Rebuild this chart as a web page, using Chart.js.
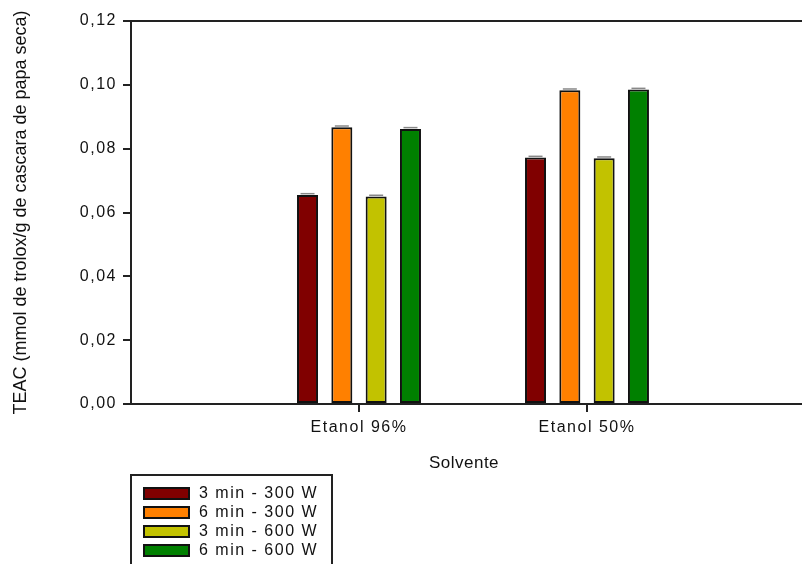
<!DOCTYPE html>
<html>
<head>
<meta charset="utf-8">
<script src="https://cdn.jsdelivr.net/npm/chart.js@4.4.1/dist/chart.umd.min.js"></script>
<style>
  html, body { margin: 0; padding: 0; background: #fff; overflow: hidden; }
</style>
</head>
<body>
<canvas id="teacChart" width="802" height="564"></canvas>
<script>
// data
const categories = ["Etanol 96%", "Etanol 50%"];
const seriesNames = ["3 min - 300 W", "6 min - 300 W", "3 min - 600 W", "6 min - 600 W"];
const min3w300 = [0.0655, 0.0772];
const min6w300 = [0.0867, 0.0983];
const min3w600 = [0.0650, 0.0770];
const min6w600 = [0.0862, 0.0985];
const errors = [0.0004, 0.0004];
const yTicks = [0, 0.02, 0.04, 0.06, 0.08, 0.10, 0.12];
const colors = ["#800000", "#ff8000", "#c2c200", "#008000"];

const font = "'Liberation Sans', Arial, sans-serif";
const values = [min3w300, min6w300, min3w600, min6w600];

// x is linear so both groups sit at 1 and 2, plot runs off the right edge
const points = (arr) => arr.map((v, i) => ({ x: i + 1, y: v }));

const extras = {
  id: "extras",
  beforeDraw(chart) {
    chart.ctx.letterSpacing = "1.5px";
  },
  afterDatasetsDraw(chart) {
    const ctx = chart.ctx;
    const y = chart.scales.y;
    ctx.save();
    ctx.strokeStyle = "#888";
    ctx.lineWidth = 1.5;
    chart.data.datasets.forEach((ds, d) => {
      chart.getDatasetMeta(d).data.forEach((bar, i) => {
        const top = y.getPixelForValue(ds.data[i].y + errors[i]);
        ctx.beginPath();
        ctx.moveTo(bar.x - 7, top);
        ctx.lineTo(bar.x + 7, top);
        ctx.stroke();
      });
    });
    ctx.restore();
  },
  afterDraw(chart) {
    const ctx = chart.ctx;
    const a = chart.chartArea;
    ctx.save();
    // top frame line
    ctx.strokeStyle = "#222";
    ctx.lineWidth = 2;
    ctx.beginPath();
    ctx.moveTo(a.left, a.top);
    ctx.lineTo(a.right, a.top);
    ctx.stroke();

    // axis titles
    ctx.fillStyle = "#111";
    ctx.letterSpacing = "0px";
    ctx.font = "18px " + font;
    ctx.textAlign = "center";
    ctx.textBaseline = "alphabetic";
    ctx.save();
    ctx.translate(26, (a.top + a.bottom) / 2);
    ctx.rotate(-Math.PI / 2);
    ctx.fillText("TEAC (mmol de trolox/g de cascara de papa seca)", 0, 0);
    ctx.restore();

    ctx.letterSpacing = "0.5px";
    ctx.font = "17px " + font;
    ctx.textBaseline = "middle";
    ctx.fillText("Solvente", 464, 463);

    // legend box
    ctx.lineWidth = 2;
    ctx.strokeRect(131, 475, 201, 110);
    ctx.letterSpacing = "1.5px";
    ctx.font = "16px " + font;
    ctx.textAlign = "left";
    seriesNames.forEach((name, i) => {
      const top = 488 + i * 19;
      ctx.fillStyle = colors[i];
      ctx.fillRect(144, top, 45, 11);
      ctx.strokeStyle = "#111";
      ctx.strokeRect(144, top, 45, 11);
      ctx.fillStyle = "#111";
      ctx.fillText(name, 199, top + 6);
    });
    ctx.restore();
  }
};

new Chart(document.getElementById("teacChart"), {
  type: "bar",
  data: {
    datasets: seriesNames.map((name, i) => ({
      label: name,
      data: points(values[i]),
      backgroundColor: colors[i],
      borderColor: "#111",
      borderWidth: 2,
      borderSkipped: false,
      categoryPercentage: 0.602,
      barPercentage: 0.612
    }))
  },
  options: {
    responsive: false,
    animation: false,
    devicePixelRatio: 1,
    layout: { padding: { top: 21, right: 0, left: 0, bottom: 0 } },
    plugins: {
      legend: { display: false },
      tooltip: { enabled: false }
    },
    scales: {
      x: {
        type: "linear",
        offset: false,
        min: 0,
        max: 2.943,
        afterBuildTicks: (s) => { s.ticks = categories.map((c, i) => ({ value: i + 1 })); },
        afterFit: (s) => { s.height = 160; },
        grid: { offset: false, drawOnChartArea: false, tickLength: 8, color: "#222", lineWidth: 2 },
        border: { color: "#222", width: 2 },
        ticks: {
          maxRotation: 0,
          padding: 6,
          color: "#111",
          font: { family: font, size: 16 },
          callback: (v) => categories[v - 1]
        }
      },
      y: {
        min: 0,
        max: 0.12,
        afterBuildTicks: (s) => { s.ticks = yTicks.map((v) => ({ value: v })); },
        afterFit: (s) => { s.width = 131; },
        grid: { drawOnChartArea: false, tickLength: 8, color: "#222", lineWidth: 2 },
        border: { color: "#222", width: 2 },
        ticks: {
          padding: 6,
          color: "#111",
          font: { family: font, size: 16 },
          callback: (v) => v.toFixed(2).replace(".", ",")
        }
      }
    }
  },
  plugins: [extras]
});
</script>
</body>
</html>
